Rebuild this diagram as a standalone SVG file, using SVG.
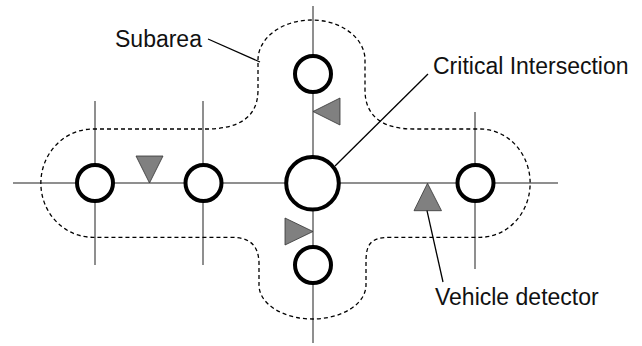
<svg xmlns="http://www.w3.org/2000/svg" width="642" height="346" viewBox="0 0 642 346">
  <style>
    .road { stroke: #8f8f8f; stroke-width: 2; fill: none; }
    .node { fill: #fff; stroke: #000; stroke-width: 4; }
    .det { fill: #808080; stroke: #333; stroke-width: 0.8; stroke-linejoin: miter; }
    .area { fill: none; stroke: #000; stroke-width: 1.3; stroke-dasharray: 4 3; }
    .ptr { stroke: #000; stroke-width: 1.3; fill: none; }
    .lbl { font-family: "Liberation Sans", Arial, sans-serif; font-size: 23px; fill: #111; }
  </style>
  <rect width="642" height="346" fill="#fff"/>
  <g id="roads">
    <line class="road" x1="13" y1="183" x2="558" y2="183"/>
    <line class="road" x1="313" y1="6" x2="313" y2="343"/>
    <line class="road" x1="95" y1="101" x2="95" y2="265"/>
    <line class="road" x1="203" y1="101" x2="203" y2="265"/>
    <line class="road" x1="475" y1="112" x2="475" y2="269"/>
  </g>
  <g id="subarea">
    <path class="area" d="M 93 129 H 210 C 235 128 258 120 258 90 V 60 A 53.5 40 0 0 1 365 60 V 90 C 365 120 388 129 413 129 H 480 A 50 54 0 0 1 480 237.3 H 390 C 370 237.3 366 245 366 262 V 285 A 53.5 34 0 0 1 259 285 V 262 C 258 245 250 237.3 230 237.3 H 93 A 52 54 0 0 1 93 129 Z"/>
  </g>
  <g id="intersection-1"><circle class="node" cx="95" cy="183" r="18"/></g>
  <g id="intersection-2"><circle class="node" cx="203.5" cy="183" r="18"/></g>
  <g id="critical-intersection"><circle class="node" cx="312.5" cy="183.3" r="26.3"/></g>
  <g id="intersection-top"><circle class="node" cx="313" cy="74" r="18"/></g>
  <g id="intersection-bottom"><circle class="node" cx="313" cy="265" r="18"/></g>
  <g id="intersection-right"><circle class="node" cx="475.5" cy="183" r="18"/></g>
  <g id="detectors">
    <polygon class="det" points="136,156 163,156 149.5,183"/>
    <polygon class="det" points="313,111.5 340,98 340,125"/>
    <polygon class="det" points="285,218 285,245 313,231.5"/>
    <polygon class="det" points="427.5,183.3 414,210.7 441.5,210.7"/>
  </g>
  <g id="connectors">
    <line class="ptr" x1="208" y1="39" x2="260" y2="62"/>
    <line class="ptr" x1="428" y1="74" x2="335" y2="166"/>
    <line class="ptr" x1="427" y1="210.7" x2="443" y2="282"/>
  </g>
  <g id="labels">
    <text class="lbl" x="115" y="47">Subarea</text>
    <text class="lbl" x="433" y="74">Critical Intersection</text>
    <text class="lbl" x="435" y="305">Vehicle detector</text>
  </g>
</svg>
